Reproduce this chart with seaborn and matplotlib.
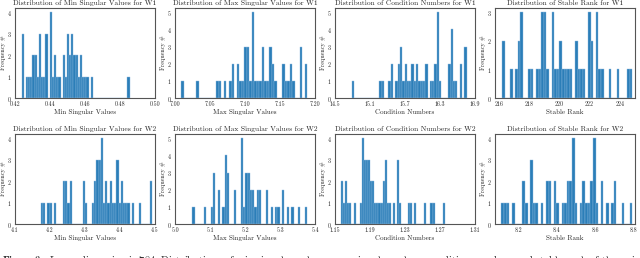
import numpy as np
import matplotlib
matplotlib.use("Agg")
import matplotlib.pyplot as plt
import matplotlib.ticker as mticker
import seaborn as sns

# values (approximate bin centres) and how often each appears
min_w1_vals = [0.4244, 0.4269, 0.4281, 0.4294, 0.4306, 0.4318, 0.4331, 0.4343, 0.4355, 0.4368,
               0.4380, 0.4405, 0.4417, 0.4429, 0.4442, 0.4454, 0.4479, 0.4491, 0.4503, 0.4516,
               0.4528, 0.4540, 0.4553, 0.4565, 0.4577, 0.4590, 0.4602, 0.4614, 0.4639, 0.4849]
min_w1_cnt = [3, 1, 1, 1, 2, 2, 1, 3, 1, 1, 3, 4, 1, 2, 1, 1, 2, 1, 3, 2, 3, 2, 2, 1, 2, 1, 1, 1, 1, 1]

max_w1_vals = [7.0104, 7.0320, 7.0609, 7.0645, 7.0717, 7.0790, 7.0826, 7.0898, 7.0934, 7.0970,
               7.1006, 7.1042, 7.1078, 7.1114, 7.1150, 7.1186, 7.1222, 7.1259, 7.1295, 7.1331,
               7.1367, 7.1403, 7.1439, 7.1547, 7.1583, 7.1619, 7.1655, 7.1692, 7.1800, 7.1872]
max_w1_cnt = [1, 1, 1, 1, 1, 1, 2, 2, 1, 1, 3, 3, 1, 5, 1, 1, 1, 3, 1, 1, 3, 2, 1, 2, 1, 1, 2, 1, 3, 2]

cond_w1_vals = [14.8057, 15.2787, 15.3182, 15.4364, 15.4758, 15.5547, 15.5941, 15.6335, 15.6729, 15.7124,
                15.7518, 15.7912, 15.8306, 15.8700, 15.9095, 15.9489, 15.9883, 16.0277, 16.0671, 16.1460,
                16.1854, 16.2248, 16.2642, 16.3037, 16.4613, 16.5008, 16.5402, 16.5796, 16.6584, 16.7373]
cond_w1_cnt = [1, 1, 1, 1, 2, 1, 2, 3, 1, 2, 1, 1, 2, 1, 2, 1, 1, 1, 2, 1, 1, 2, 5, 1, 2, 4, 1, 1, 2, 3]

rank_w1_vals = [216.306, 216.822, 217.166, 217.338, 217.510, 218.026, 218.198, 218.542, 218.714, 218.886,
                219.058, 219.230, 219.574, 219.746, 219.918, 220.090, 220.262, 220.434, 220.606, 220.778,
                221.122, 221.294, 221.466, 221.638, 221.982, 222.154, 222.498, 222.670, 222.842, 223.358,
                223.874, 224.562, 224.734]
rank_w1_cnt = [2, 1, 1, 2, 3, 1, 1, 1, 1, 3, 3, 1, 3, 1, 1, 2, 1, 1, 1, 1, 2, 1, 1, 1, 3, 2, 3, 1, 1, 1, 1, 1, 1]

min_w2_vals = [4.1765, 4.1828, 4.1956, 4.2019, 4.2147, 4.2401, 4.2465, 4.2528, 4.2592, 4.2974,
               4.3037, 4.3228, 4.3292, 4.3355, 4.3419, 4.3483, 4.3546, 4.3610, 4.3673, 4.3737,
               4.3801, 4.3864, 4.3928, 4.3992, 4.4055, 4.4119, 4.4182, 4.4246, 4.4373, 4.4564, 4.4882]
min_w2_cnt = [1, 1, 1, 1, 1, 2, 2, 1, 2, 2, 1, 1, 2, 3, 3, 4, 1, 2, 1, 2, 1, 1, 3, 1, 2, 1, 1, 1, 1, 1, 2]

max_w2_vals = [5.0528, 5.0856, 5.1053, 5.1119, 5.1251, 5.1382, 5.1448, 5.1513, 5.1710, 5.1907,
               5.1973, 5.2039, 5.2105, 5.2170, 5.2236, 5.2302, 5.2367, 5.2433, 5.2630, 5.2762,
               5.2893, 5.2959, 5.3090, 5.3221, 5.3353, 5.3550, 5.3747]
max_w2_cnt = [1, 1, 1, 3, 2, 1, 4, 3, 2, 5, 1, 3, 3, 2, 2, 1, 2, 2, 2, 1, 1, 1, 2, 1, 1, 1, 1]

cond_w2_vals = [1.1581, 1.1605, 1.1628, 1.1652, 1.1676, 1.1723, 1.1795, 1.1818, 1.1842, 1.1866,
                1.1890, 1.1914, 1.1937, 1.1961, 1.1985, 1.2008, 1.2032, 1.2056, 1.2080, 1.2104,
                1.2127, 1.2175, 1.2222, 1.2246, 1.2341, 1.2365, 1.2412, 1.2531, 1.2603, 1.2626, 1.2745]
cond_w2_cnt = [2, 1, 2, 1, 1, 1, 1, 4, 3, 3, 3, 2, 2, 1, 1, 1, 1, 2, 3, 1, 1, 1, 3, 1, 1, 1, 1, 1, 1, 1, 1]

rank_w2_vals = [8.1159, 8.1296, 8.1433, 8.1707, 8.2256, 8.2393, 8.2668, 8.2805, 8.2942, 8.3217,
                8.3491, 8.3628, 8.3903, 8.4040, 8.4314, 8.4452, 8.4589, 8.4726, 8.4863, 8.5000,
                8.5275, 8.5412, 8.5549, 8.5686, 8.5823, 8.5961, 8.6098, 8.6372, 8.6647, 8.6921,
                8.7058, 8.7470, 8.7882]
rank_w2_cnt = [1, 1, 1, 1, 2, 1, 3, 1, 1, 1, 2, 2, 2, 1, 1, 1, 2, 2, 4, 1, 1, 2, 1, 1, 2, 4, 1, 2, 1, 1, 2, 1, 1]

metrics = ["Min Singular Values", "Max Singular Values", "Condition Numbers", "Stable Rank"]
layers = ["W1", "W2"]

sns.set_style("white")
plt.rcParams["font.family"] = ["serif"]
plt.rcParams["font.serif"] = ["cmr10", "DejaVu Serif"]
plt.rcParams["mathtext.fontset"] = "cm"
plt.rcParams["axes.formatter.use_mathtext"] = True

# (vals, counts, binrange, xlim, xticks, tick format)
panels = [
    (min_w1_vals, min_w1_cnt, (0.4238, 0.4855), (0.42, 0.50), np.linspace(0.42, 0.50, 5), "%.2f"),
    (max_w1_vals, max_w1_cnt, (7.0086, 7.189), (7.0, 7.2), np.linspace(7.0, 7.2, 5), "%.2f"),
    (cond_w1_vals, cond_w1_cnt, (14.786, 16.757), (14.5, 16.9), np.linspace(14.5, 16.9, 5), "%.1f"),
    (rank_w1_vals, rank_w1_cnt, (216.22, 224.82), (215.75, 225.0), [216, 218, 220, 222, 224], "%d"),
    (min_w2_vals, min_w2_cnt, (4.1733, 4.4914), (4.1, 4.5), np.linspace(4.1, 4.5, 5), "%.1f"),
    (max_w2_vals, max_w2_cnt, (5.0495, 5.378), (5.0, 5.4), np.linspace(5.0, 5.4, 5), "%.1f"),
    (cond_w2_vals, cond_w2_cnt, (1.1569, 1.2757), (1.15, 1.31), np.linspace(1.15, 1.31, 5), "%.2f"),
    (rank_w2_vals, rank_w2_cnt, (8.109, 8.795), (8.075, 8.81), [8.2, 8.4, 8.6, 8.8], "%.1f"),
]

fig = plt.figure(figsize=(6.4, 2.58), dpi=100)
lefts = [15, 175, 335, 495]
bottoms = [1 - 98 / 258, 1 - 224 / 258]

for k, (vals, cnt, brange, xlim, xticks, fmt) in enumerate(panels):
    row, col = divmod(k, 4)
    ax = fig.add_axes([lefts[col] / 640, bottoms[row], 140 / 640, 90 / 258])
    sns.histplot(x=vals, weights=cnt, bins=50, binrange=brange, ax=ax,
                 color="#1f77b4", alpha=0.95, edgecolor="#8fbbe0", linewidth=0.3)
    ax.set_xlim(*xlim)
    ax.set_xticks(xticks)
    ax.xaxis.set_major_formatter(mticker.FormatStrFormatter(fmt))
    ax.yaxis.set_major_locator(mticker.MultipleLocator(1))
    ax.set_title(f"Distribution of {metrics[col]} for {layers[row]}", fontsize=5.4, pad=2)
    ax.set_xlabel(metrics[col], fontsize=5.0, labelpad=1.5)
    ax.set_ylabel("Frequency #", fontsize=4.4, labelpad=0.8)
    ax.tick_params(labelsize=4.3, length=1.5, width=0.5, pad=1.0)
    for s in ax.spines.values():
        s.set_color("#555555")
        s.set_linewidth(0.8)

fig.text(0.003, 0.012, r"$\mathbf{Figure\ 3:}$ Layer dimension is 784. Distributions of min singular values, max singular values, "
         "condition numbers and stable rank of the weight matrices W1 and W2.",
         fontsize=7.5, va="top", ha="left")

fig.savefig("out.png", dpi=100)
